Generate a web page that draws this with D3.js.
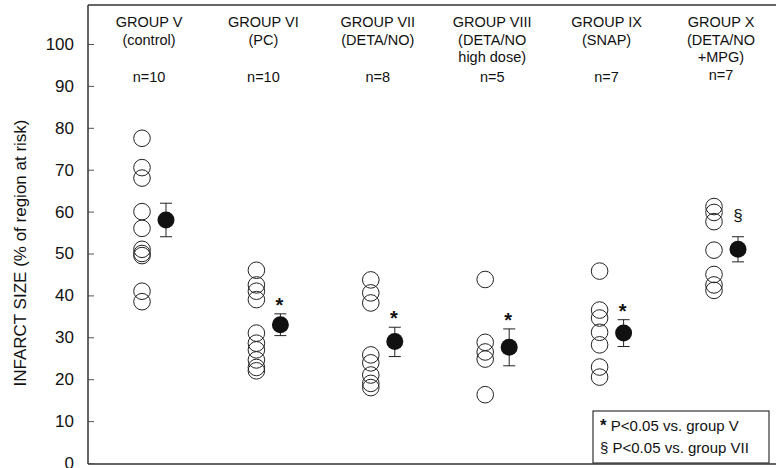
<!DOCTYPE html>
<html>
<head>
<meta charset="utf-8">
<script src="https://cdn.jsdelivr.net/npm/d3@7"></script>
<style>
  body { margin: 0; background: #fff; }
  svg { font-family: "Liberation Sans", Arial, sans-serif; }
</style>
</head>
<body>
<div class="container"></div>
<script>
const groups = ['V', 'VI', 'VII', 'VIII', 'IX', 'X'];
const headerLines = [
  ['GROUP V', '(control)'],
  ['GROUP VI', '(PC)'],
  ['GROUP VII', '(DETA/NO)'],
  ['GROUP VIII', '(DETA/NO', 'high dose)'],
  ['GROUP IX', '(SNAP)'],
  ['GROUP X', '(DETA/NO', '+MPG)'],
];
const counts = ['n=10', 'n=10', 'n=8', 'n=5', 'n=7', 'n=7'];
const individual = [
  [77.5, 70.5, 68, 60, 56, 51, 50, 49.5, 41, 38.5],
  [46, 42.5, 41, 39, 31, 28.6, 27, 24.6, 22.8, 22],
  [43.7, 40.6, 38.2, 25.8, 23.9, 21, 19, 18],
  [43.8, 28.8, 26.5, 24.8, 16.3],
  [45.8, 36.5, 34.6, 31.2, 28.2, 22.9, 20.5],
  [61.2, 59.8, 57.6, 50.8, 45, 42.5, 41.2],
];
const means = [58, 33, 29, 27.6, 31, 51];
const semTop = [62, 35.6, 32.4, 32, 34.2, 54];
const semBottom = [54, 30.4, 25.4, 23.2, 27.8, 48];
const marks = ['', '*', '*', '*', '*', '§'];
const yTicks = [0, 10, 20, 30, 40, 50, 60, 70, 80, 90, 100];
const legendLines = ['P<0.05 vs. group V', 'P<0.05 vs. group VII'];
const legendSymbols = ['*', '§'];

const width = 776;
const height = 468;

const svg = d3
  .select('.container')
  .append('svg')
  .attr('width', width)
  .attr('height', height);

const yScale = d3.scaleLinear().domain([0, 100]).range([463, 44]);
const xScale = d3.scalePoint().domain(groups).range([153, 725]);

// frame: top and bottom lines
svg.append('line')
  .attr('x1', 88).attr('x2', width).attr('y1', 5).attr('y2', 5)
  .attr('stroke', '#333').attr('stroke-width', 1.5);
svg.append('line')
  .attr('x1', 88).attr('x2', width).attr('y1', 464).attr('y2', 464)
  .attr('stroke', '#333').attr('stroke-width', 1.5);

const yAxis = d3.axisLeft(yScale).tickValues(yTicks).tickSize(-6).tickPadding(14);
const gy = svg.append('g')
  .attr('transform', 'translate(88,0)')
  .call(yAxis);
gy.select('.domain').remove();
gy.append('line')
  .attr('x1', 0).attr('x2', 0).attr('y1', 5).attr('y2', 464)
  .attr('stroke', '#333').attr('stroke-width', 1.5);
gy.selectAll('.tick line').attr('stroke', '#555');
gy.selectAll('.tick text')
  .attr('font-size', 17)
  .attr('fill', '#111')
  .attr('font-family', '"Liberation Sans", Arial, sans-serif');

svg.append('text')
  .attr('transform', 'translate(26,253) rotate(-90)')
  .attr('text-anchor', 'middle')
  .attr('font-size', 17)
  .attr('fill', '#111')
  .text('INFARCT  SIZE (% of region at risk)');

// headers
const headers = svg.append('g').attr('font-size', 14.5).attr('fill', '#111');
groups.forEach((g, i) => {
  const cx = xScale(g) - 4;
  headerLines[i].forEach((line, j) => {
    headers.append('text')
      .attr('x', cx)
      .attr('y', 27 + j * 17.5)
      .attr('text-anchor', 'middle')
      .text(line);
  });
  headers.append('text')
    .attr('x', cx)
    .attr('y', i === 5 ? 80 : 82)
    .attr('text-anchor', 'middle')
    .text(counts[i]);
});

// individual values
const pts = [];
individual.forEach((vals, i) => vals.forEach((v) => pts.push({ g: groups[i], v })));
svg.append('g')
  .selectAll('circle')
  .data(pts)
  .enter()
  .append('circle')
  .attr('cx', (d) => xScale(d.g) - 11)
  .attr('cy', (d) => yScale(d.v))
  .attr('r', 8.3)
  .attr('fill', 'none')
  .attr('stroke', '#222')
  .attr('stroke-width', 1);

// mean +/- sem
const summary = groups.map((g, i) => ({
  g, m: means[i], hi: semTop[i], lo: semBottom[i], mark: marks[i],
}));
const sg = svg.append('g').selectAll('g').data(summary).enter().append('g')
  .attr('transform', (d) => `translate(${xScale(d.g) + 13},0)`);
sg.append('line')
  .attr('y1', (d) => yScale(d.hi)).attr('y2', (d) => yScale(d.lo))
  .attr('stroke', '#222');
sg.append('line')
  .attr('x1', -6).attr('x2', 6)
  .attr('y1', (d) => yScale(d.hi)).attr('y2', (d) => yScale(d.hi))
  .attr('stroke', '#222');
sg.append('line')
  .attr('x1', -6).attr('x2', 6)
  .attr('y1', (d) => yScale(d.lo)).attr('y2', (d) => yScale(d.lo))
  .attr('stroke', '#222');
sg.append('circle')
  .attr('cy', (d) => yScale(d.m))
  .attr('r', 8.5)
  .attr('fill', '#111');
sg.filter((d) => d.mark === '*')
  .append('text')
  .attr('x', -1)
  .attr('y', (d) => yScale(d.hi) - 2)
  .attr('text-anchor', 'middle')
  .attr('font-size', 20)
  .attr('font-weight', 'bold')
  .attr('fill', '#111')
  .text('*');
sg.filter((d) => d.mark === '§')
  .append('text')
  .attr('x', 0)
  .attr('y', (d) => yScale(d.hi) - 16)
  .attr('text-anchor', 'middle')
  .attr('font-size', 17)
  .attr('fill', '#111')
  .text('§');

// legend
const legend = svg.append('g').attr('transform', 'translate(593,411)');
legend.append('rect')
  .attr('width', 176).attr('height', 52)
  .attr('fill', '#fff').attr('stroke', '#333').attr('stroke-width', 1.2);
legendLines.forEach((t, i) => {
  const row = legend.append('text')
    .attr('x', 7)
    .attr('y', 20 + i * 22)
    .attr('font-size', 15)
    .attr('fill', '#111');
  row.append('tspan')
    .attr('font-weight', i === 0 ? 'bold' : 'normal')
    .attr('font-size', i === 0 ? 17 : 15)
    .text(legendSymbols[i]);
  row.append('tspan').text(` ${t}`);
});
</script>
</body>
</html>
